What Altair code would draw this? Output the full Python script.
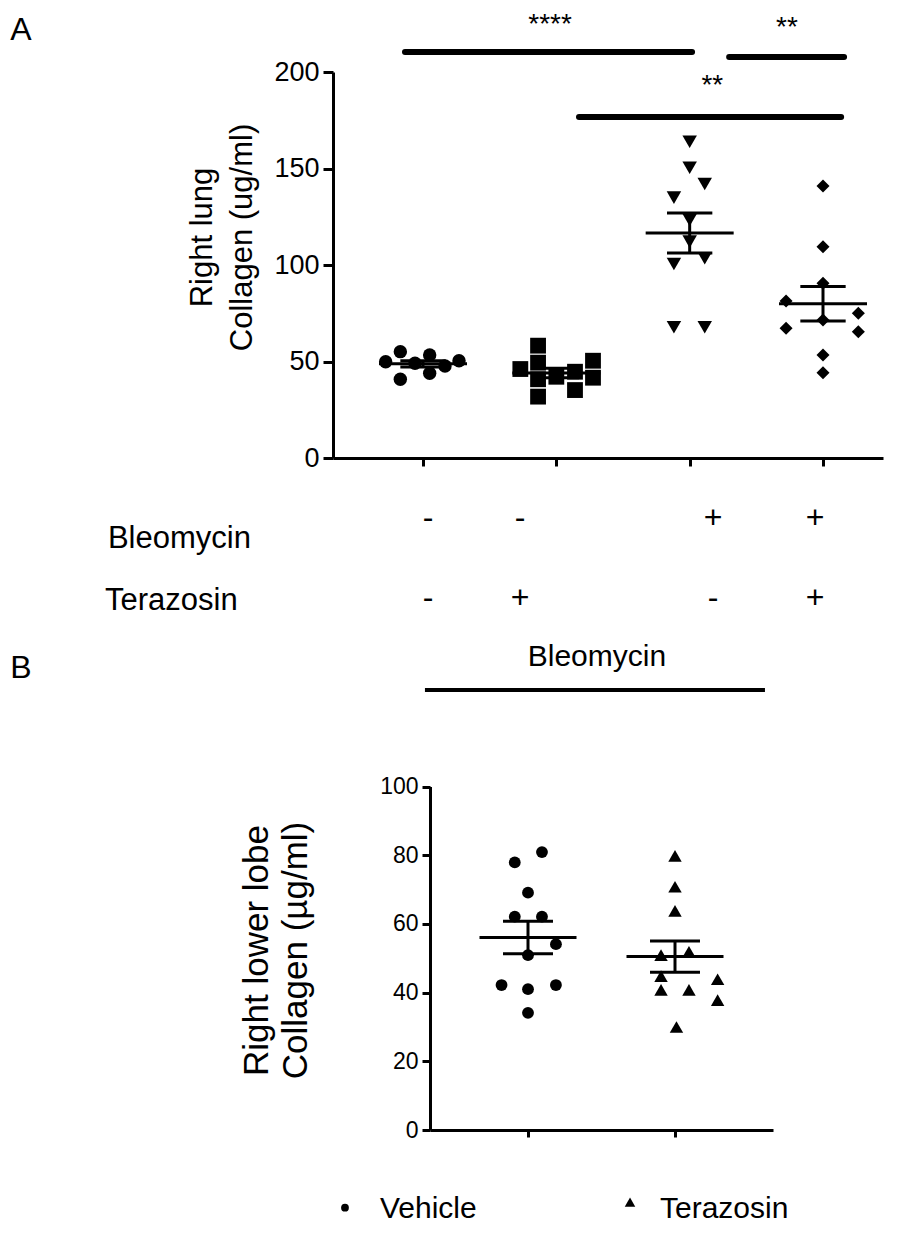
import altair as alt
import pandas as pd

FONT = "Liberation Sans"

# ---------------- Panel A data ----------------
a_positions = [1, 2, 3, 4]
a_shapes = ["circle", "square", "triangle-down", "diamond"]
a_sizes = [180, 250, 210, 170]

a_g1_y = [49.9, 55.1, 40.8, 49.1, 53.4, 43.9, 47.7, 50.4]
a_g1_dx = [-0.28, -0.17, -0.17, -0.06, 0.05, 0.05, 0.165, 0.27]
a_g2_y = [46.1, 58.2, 49.4, 40.8, 31.8, 42.1, 44.7, 35.2, 50.4, 41.6]
a_g2_dx = [-0.27, -0.137, -0.137, -0.137, -0.137, 0.0, 0.14, 0.14, 0.275, 0.275]
a_g3_y = [163.9, 150.4, 123.3, 112.1, 142.0, 103.5, 67.7, 134.9, 100.5, 67.7]
a_g3_dx = [0.0, 0.0, 0.0, 0.0, 0.113, 0.113, 0.113, -0.118, -0.118, -0.118]
a_g4_y = [140.9, 109.5, 90.5, 71.5, 53.4, 44.2, 81.3, 67.2, 75.0, 65.4]
a_g4_dx = [0.0, 0.0, 0.0, 0.0, 0.0, 0.0, -0.277, -0.277, 0.265, 0.265]

# significance bars (x from, x to, y) and stars
sig_x1 = [0.865, 3.296, 2.17]
sig_x2 = [3.018, 4.158, 4.136]
sig_y = [210.4, 207.8, 176.7]
star_text = ["****", "**", "**"]
star_x = [1.953, 3.73, 3.17]
star_y = [220.2, 218.7, 188.6]

# treatment sign table
bleo_signs = ["-", "-", "+", "+"]
tera_signs = ["-", "+", "-", "+"]
sign_x = [1.038, 1.728, 3.175, 3.94]

# ---------------- Panel B data ----------------
b_positions = [1, 2]
b_labels = ["Vehicle", "Terazosin"]
b_veh_y = [42.2, 77.9, 62.1, 69.1, 50.9, 41.0, 34.1, 80.9, 62.1, 54.1, 42.2]
b_veh_dx = [-0.18, -0.09, -0.09, 0.0, 0.0, 0.0, 0.0, 0.095, 0.095, 0.19, 0.19]
b_ter_y = [79.8, 70.8, 63.8, 30.0, 50.9, 44.8, 40.8, 51.9, 40.8, 43.9, 37.8]
b_ter_dx = [0.0, 0.0, 0.0, 0.01, -0.095, -0.095, -0.095, 0.095, 0.095, 0.29, 0.29]


def pts(pos, shape, size, ys, dxs):
    return pd.DataFrame({"pos": pos, "shape": shape, "size": size,
                         "x": [pos + d for d in dxs], "y": ys})


dfA = pd.concat([
    pts(a_positions[0], a_shapes[0], a_sizes[0], a_g1_y, a_g1_dx),
    pts(a_positions[1], a_shapes[1], a_sizes[1], a_g2_y, a_g2_dx),
    pts(a_positions[2], a_shapes[2], a_sizes[2], a_g3_y, a_g3_dx),
    pts(a_positions[3], a_shapes[3], a_sizes[3], a_g4_y, a_g4_dx),
], ignore_index=True)

dfB = pd.concat([
    pts(b_positions[0], "circle", 140, b_veh_y, b_veh_dx),
    pts(b_positions[1], "triangle-up", 180, b_ter_y, b_ter_dx),
], ignore_index=True)


def summary_layers(base, xs, ys, half=0.33, cap=0.17, sw=3):
    agg = base.transform_aggregate(
        m="mean(y)", s="stderr(y)", groupby=["pos"]
    ).transform_calculate(
        lo="datum.m - datum.s", hi="datum.m + datum.s",
        xl=f"datum.pos - {half}", xr=f"datum.pos + {half}",
        cl=f"datum.pos - {cap}", cr=f"datum.pos + {cap}",
    )
    mean_line = agg.mark_rule(color="black", strokeWidth=sw).encode(
        x=alt.X("xl:Q", scale=xs), x2="xr:Q", y=alt.Y("m:Q", scale=ys))
    err = agg.mark_rule(color="black", strokeWidth=sw).encode(
        x=alt.X("pos:Q", scale=xs), y=alt.Y("lo:Q", scale=ys), y2="hi:Q")
    cap_lo = agg.mark_rule(color="black", strokeWidth=sw).encode(
        x=alt.X("cl:Q", scale=xs), x2="cr:Q", y=alt.Y("lo:Q", scale=ys))
    cap_hi = agg.mark_rule(color="black", strokeWidth=sw).encode(
        x=alt.X("cl:Q", scale=xs), x2="cr:Q", y=alt.Y("hi:Q", scale=ys))
    return [mean_line, err, cap_lo, cap_hi]


# One shared canvas: the plot rectangle spans both panels; each panel has its
# own scales whose pixel ranges place it where it belongs.
W, H = 550, 1058

# ---------------- Panel A chart ----------------
xA = alt.Scale(domain=[0.325, 4.45], range=[0, 550], nice=False, zero=False)
yA = alt.Scale(domain=[0, 200], range=[386, 0], nice=False, zero=False)

baseA = alt.Chart(dfA)
pointsA = baseA.mark_point(filled=True, opacity=1, color="black").encode(
    x=alt.X("x:Q", scale=xA, axis=alt.Axis(
        orient="bottom", offset=-(H - 386),
        values=a_positions, labels=False, title=None, grid=False,
        tickSize=8, tickWidth=3, tickColor="black",
        domainWidth=3, domainColor="black")),
    y=alt.Y("y:Q", scale=yA, axis=alt.Axis(
        orient="left", offset=0,
        values=[0, 50, 100, 150, 200], grid=False,
        tickSize=10, tickWidth=3, tickColor="black",
        domainWidth=3, domainColor="black",
        labelFont=FONT, labelFontSize=27, labelColor="black", labelPadding=4,
        title=["Right lung", "Collagen (ug/ml)"], titleFont=FONT,
        titleFontSize=31, titleFontWeight="normal", titleColor="black",
        titleAngle=270, titleAlign="center", titleBaseline="middle",
        titleX=-131, titleY=165, titleLineHeight=40)),
    shape=alt.Shape("shape:N", scale=None, legend=None),
    size=alt.Size("size:Q", scale=None, legend=None),
)

sig_df = pd.DataFrame({"x1": sig_x1, "x2": sig_x2, "y": sig_y})
sig_bars = alt.Chart(sig_df).mark_rule(
    color="black", strokeWidth=6, strokeCap="round").encode(
    x=alt.X("x1:Q", scale=xA), x2="x2:Q", y=alt.Y("y:Q", scale=yA))

stars_df = pd.DataFrame({"t": star_text, "x": star_x, "y": star_y})
stars = alt.Chart(stars_df).mark_text(
    font=FONT, fontSize=28, color="black", baseline="alphabetic").encode(
    x=alt.X("x:Q", scale=xA), y=alt.Y("y:Q", scale=yA), text="t:N")

signs_df = pd.DataFrame({
    "t": bleo_signs + tera_signs,
    "x": sign_x + sign_x,
    "y": [-31.1] * 4 + [-72.5] * 4,
})
signs = alt.Chart(signs_df).mark_text(
    font=FONT, fontSize=32, color="black").encode(
    x=alt.X("x:Q", scale=xA), y=alt.Y("y:Q", scale=yA), text="t:N")

rows_df = pd.DataFrame({"t": ["Bleomycin", "Terazosin"],
                        "x": [-1.363, -1.385], "y": [-46.6, -78.8]})
rows = alt.Chart(rows_df).mark_text(
    font=FONT, fontSize=31, color="black", align="left",
    baseline="alphabetic").encode(
    x=alt.X("x:Q", scale=xA), y=alt.Y("y:Q", scale=yA), text="t:N")

labA_df = pd.DataFrame({"t": ["A"], "x": [-2.016], "y": [221.8]})
labA = alt.Chart(labA_df).mark_text(
    font=FONT, fontSize=32, color="black").encode(
    x=alt.X("x:Q", scale=xA), y=alt.Y("y:Q", scale=yA), text="t:N")

layerA = alt.layer(
    pointsA, *summary_layers(baseA, xA, yA), sig_bars, stars, signs, rows, labA
)

# ---------------- Panel B chart ----------------
xB = alt.Scale(domain=[1 / 3, 8 / 3], range=[97, 440], nice=False, zero=False)
yB = alt.Scale(domain=[0, 100], range=[H, H - 343.5], nice=False, zero=False)

baseB = alt.Chart(dfB)
pointsB = baseB.mark_point(filled=True, opacity=1, color="black").encode(
    x=alt.X("x:Q", scale=xB, axis=alt.Axis(
        orient="bottom", offset=0,
        values=b_positions, labels=False, title=None, grid=False,
        tickSize=7, tickWidth=3, tickColor="black",
        domainWidth=3, domainColor="black")),
    y=alt.Y("y:Q", scale=yB, axis=alt.Axis(
        orient="left", offset=-97,
        values=[0, 20, 40, 60, 80, 100], grid=False,
        tickSize=8, tickWidth=3, tickColor="black",
        domainWidth=3, domainColor="black",
        labelFont=FONT, labelFontSize=23, labelColor="black", labelPadding=4,
        title=["Right lower lobe", "Collagen (µg/ml)"], titleFont=FONT,
        titleFontSize=35, titleFontWeight="normal", titleColor="black",
        titleAngle=270, titleAlign="center", titleBaseline="middle",
        titleX=-174, titleY=878, titleLineHeight=39)),
    shape=alt.Shape("shape:N", scale=None, legend=None),
    size=alt.Size("size:Q", scale=None, legend=None),
)

bleoB_df = pd.DataFrame({"x1": [0.299], "x2": [2.612], "y": [128.1]})
bleoB_bar = alt.Chart(bleoB_df).mark_rule(
    color="black", strokeWidth=4).encode(
    x=alt.X("x1:Q", scale=xB), x2="x2:Q", y=alt.Y("y:Q", scale=yB))

txtB_df = pd.DataFrame({"t": ["Bleomycin", "B"], "x": [1.469, -2.449],
                        "y": [137.7, 134.5], "fs": [30, 32]})
txtB = alt.Chart(txtB_df).mark_text(font=FONT, color="black").encode(
    x=alt.X("x:Q", scale=xB), y=alt.Y("y:Q", scale=yB), text="t:N",
    size=alt.Size("fs:Q", scale=None, legend=None))

leg_df = pd.DataFrame({"shape": ["circle", "triangle-up"], "size": [60, 110],
                       "x": [-0.245, 1.694], "y": [-22.6, -21.0]})
leg_sym = alt.Chart(leg_df).mark_point(filled=True, opacity=1, color="black").encode(
    x=alt.X("x:Q", scale=xB), y=alt.Y("y:Q", scale=yB),
    shape=alt.Shape("shape:N", scale=None, legend=None),
    size=alt.Size("size:Q", scale=None, legend=None))
leg_txt_df = pd.DataFrame({"t": b_labels, "x": [-0.007, 1.898], "y": [-25.5, -25.5]})
leg_txt = alt.Chart(leg_txt_df).mark_text(
    font=FONT, fontSize=30, color="black", align="left",
    baseline="alphabetic").encode(
    x=alt.X("x:Q", scale=xB), y=alt.Y("y:Q", scale=yB), text="t:N")

layerB = alt.layer(
    pointsB, *summary_layers(baseB, xB, yB), bleoB_bar, txtB, leg_sym, leg_txt
)

chart = alt.layer(layerA, layerB).resolve_scale(
    x="independent", y="independent"
).resolve_axis(
    x="independent", y="independent"
).properties(
    width=W, height=H,
    background="white",
    autosize=alt.AutoSizeParams(type="none"),
    padding={"left": 325, "top": 64, "right": 2, "bottom": 93},
).configure_view(strokeWidth=0, stroke="transparent")

chart.save("out.html", embed_options={"renderer": "svg", "actions": False})
